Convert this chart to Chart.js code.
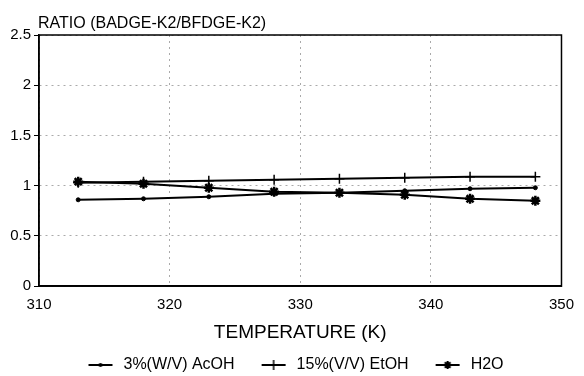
<!DOCTYPE html>
<html>
<head>
<meta charset="utf-8">
<script src="https://cdn.jsdelivr.net/npm/chart.js@4"></script>
<style>
    body { margin: 0; background: #fff; }
    #wrap { width: 584px; height: 376px; }
</style>
</head>
<body>
<div id="wrap"><canvas id="ratio-chart" width="584" height="376"></canvas></div>
<script>
// Temperatures (K) and ratio values
const temps = [313, 318, 323, 328, 333, 338, 343, 348];
const acohRatio = [0.86, 0.87, 0.89, 0.92, 0.93, 0.95, 0.97, 0.98];
const etohRatio = [1.03, 1.04, 1.05, 1.06, 1.07, 1.08, 1.09, 1.09];
const waterRatio = [1.04, 1.02, 0.98, 0.94, 0.93, 0.91, 0.87, 0.85];
const seriesNames = ['3%(W/V) AcOH', '15%(V/V) EtOH', 'H2O'];

const FONT = "'Liberation Sans', Arial, sans-serif";

function toPoints(values) {
    return values.map((v, i) => ({ x: temps[i], y: v }));
}

// legend swatch: short line with the marker in the middle
// (blank strip on the left gives the gap between legend items)
const SW = 50;
function legendSwatch(style) {
    const c = document.createElement('canvas');
    c.width = SW;
    c.height = 14;
    const g = c.getContext('2d');
    const cx = SW - 15;
    g.strokeStyle = '#000';
    g.fillStyle = '#000';
    g.lineWidth = 2;
    g.beginPath();
    g.moveTo(SW - 27, 7);
    g.lineTo(SW - 3, 7);
    g.stroke();
    if (style === 'dot') {
        g.beginPath();
        g.arc(cx, 7, 2, 0, Math.PI * 2);
        g.fill();
    } else if (style === 'plus') {
        g.lineWidth = 1.5;
        g.beginPath();
        g.moveTo(cx, 2);
        g.lineTo(cx, 12);
        g.stroke();
    } else {
        g.lineWidth = 2;
        g.beginPath();
        for (let k = 0; k < 4; k++) {
            const a = k * Math.PI / 4;
            g.moveTo(cx - 4 * Math.cos(a), 7 - 4 * Math.sin(a));
            g.lineTo(cx + 4 * Math.cos(a), 7 + 4 * Math.sin(a));
        }
        g.stroke();
    }
    return c;
}
const swatches = [legendSwatch('dot'), legendSwatch('plus'), legendSwatch('star')];

// frame on top/right + y axis caption
const framePlugin = {
    id: 'frame',
    afterDraw(chart) {
        const { ctx, chartArea } = chart;
        ctx.save();
        ctx.strokeStyle = '#000';
        ctx.lineWidth = 1.5;
        ctx.strokeRect(chartArea.left, chartArea.top, chartArea.right - chartArea.left, chartArea.bottom - chartArea.top);
        ctx.fillStyle = '#000';
        ctx.font = '16px ' + FONT;
        ctx.textBaseline = 'alphabetic';
        ctx.textAlign = 'left';
        ctx.fillText('RATIO (BADGE-K2/BFDGE-K2)', chartArea.left - 1, 28);
        ctx.restore();
    }
};

const ctx = document.getElementById('ratio-chart').getContext('2d');
new Chart(ctx, {
    type: 'line',
    data: {
        datasets: [{
            label: seriesNames[0],
            data: toPoints(acohRatio),
            borderColor: '#000',
            backgroundColor: '#000',
            borderWidth: 2,
            pointStyle: 'circle',
            pointRadius: 2,
            pointBorderWidth: 1
        }, {
            label: seriesNames[1],
            data: toPoints(etohRatio),
            borderColor: '#000',
            backgroundColor: '#000',
            borderWidth: 2,
            pointStyle: 'cross',
            pointRadius: 5,
            pointBorderWidth: 1.5
        }, {
            label: seriesNames[2],
            data: toPoints(waterRatio),
            borderColor: '#000',
            backgroundColor: '#000',
            borderWidth: 2,
            pointStyle: 'star',
            pointRadius: 5,
            pointBorderWidth: 2.5
        }]
    },
    options: {
        responsive: false,
        animation: false,
        layout: {
            padding: { top: 35, right: 15, left: 0, bottom: -7 }
        },
        plugins: {
            legend: {
                position: 'bottom',
                labels: {
                    usePointStyle: true,
                    pointStyleWidth: SW,
                    color: '#000',
                    font: { family: FONT, size: 16 },
                    padding: 4,
                    generateLabels(chart) {
                        return chart.data.datasets.map((ds, i) => ({
                            text: ds.label,
                            pointStyle: swatches[i],
                            fillStyle: '#000',
                            strokeStyle: '#000',
                            lineWidth: 0,
                            hidden: false,
                            datasetIndex: i
                        }));
                    }
                }
            },
            tooltip: { enabled: false }
        },
        scales: {
            x: {
                type: 'linear',
                min: 310,
                max: 350,
                ticks: {
                    stepSize: 10,
                    color: '#000',
                    padding: 10,
                    font: { family: FONT, size: 15 }
                },
                grid: {
                    color: '#aaa',
                    drawTicks: false
                },
                border: { color: '#000', width: 1.5, dash: [2, 4] },
                title: {
                    display: true,
                    text: 'TEMPERATURE (K)',
                    color: '#000',
                    font: { family: FONT, size: 19 },
                    padding: { top: -3, bottom: 9 }
                }
            },
            y: {
                min: 0,
                max: 2.5,
                ticks: {
                    stepSize: 0.5,
                    color: '#000',
                    padding: 3,
                    font: { family: FONT, size: 15 },
                    callback: (v) => String(Number(v.toFixed(1)))
                },
                grid: {
                    color: '#aaa',
                    tickLength: 5,
                    tickColor: '#000',
                    tickBorderDash: []
                },
                border: { color: '#000', width: 1.5, dash: [2, 4] },
                afterFit(scale) {
                    scale.width = 39;
                }
            }
        }
    },
    plugins: [framePlugin]
});
</script>
</body>
</html>
